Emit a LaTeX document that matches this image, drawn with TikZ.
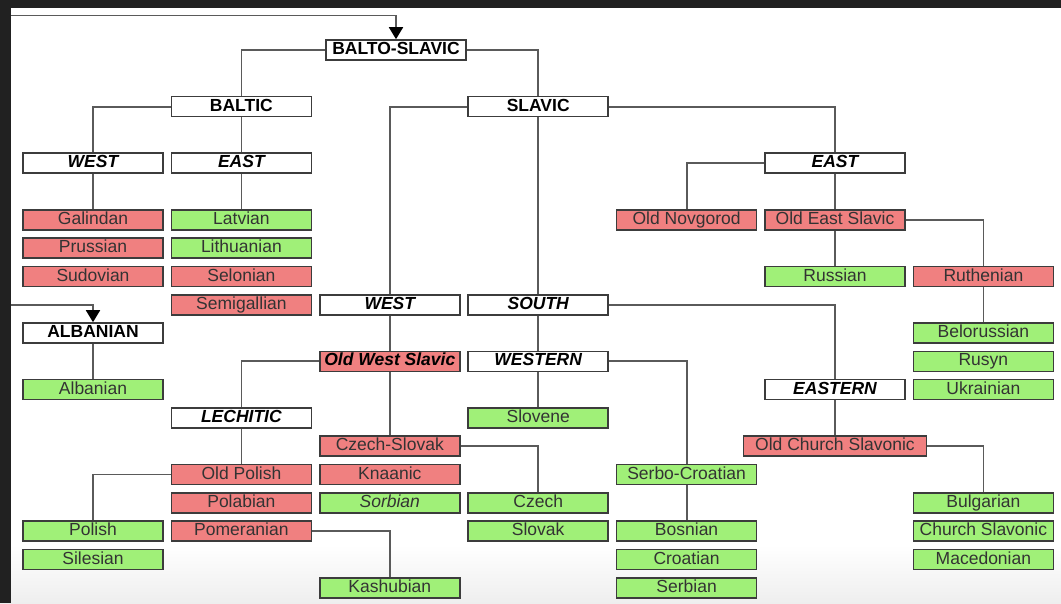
\documentclass[tikz,border=0pt]{standalone}
\usepackage{fontspec}
\setmainfont{Liberation Sans}
\usetikzlibrary{arrows.meta}
\definecolor{deadc}{RGB}{240,128,128}
\definecolor{livec}{RGB}{160,240,120}
\definecolor{bordc}{RGB}{60,60,60}
\definecolor{connc}{RGB}{90,90,90}
\definecolor{framec}{RGB}{33,33,33}
\definecolor{fadec}{RGB}{238,238,238}
\begin{document}
\begin{tikzpicture}[x=1pt,y=-1pt,
  box/.style={draw=bordc,line width=1.6pt,minimum width=140pt,minimum height=20pt,inner sep=0pt,
    font=\fontsize{17.5}{18}\selectfont,text height=12.6pt,text depth=3.4pt},
  hdr/.style={box,fill=white,text=black,font=\fontsize{17.5}{18}\selectfont\bfseries},
  hdri/.style={box,fill=white,text=black,font=\fontsize{17.5}{18}\selectfont\bfseries\itshape},
  dead/.style={box,fill=deadc,text=black!80},
  live/.style={box,fill=livec,text=black!80},
  conn/.style={draw=connc,line width=1.8pt},
  arr/.style={conn,-{Triangle[width=14pt,length=12pt,color=black]}}]
\useasboundingbox (0,0) rectangle (1061,603);
\fill[white] (0,0) rectangle (1061,603);
\shade[top color=white,bottom color=fadec] (0,545) rectangle (1061,603);
\fill[framec] (0,0) rectangle (1061,8);
\fill[framec] (0,0) rectangle (11,603);

% nodes
\node[hdr] (bs) at (396,50) {BALTO-SLAVIC};
\node[hdr] (baltic) at (241.4,106.6) {BALTIC};
\node[hdr] (slavic) at (538.2,106.6) {SLAVIC};
\node[hdri] (bwest) at (93,163.2) {WEST};
\node[hdri] (beast) at (241.4,163.2) {EAST};
\node[hdri] (seast) at (835,163.2) {EAST};
\node[dead] (galindan) at (93,219.8) {Galindan};
\node[live] (latvian) at (241.4,219.8) {Latvian};
\node[dead] (novgorod) at (686.6,219.8) {Old Novgorod};
\node[dead] (oes) at (835,219.8) {Old East Slavic};
\node[dead] (prussian) at (93,248.1) {Prussian};
\node[live] (lithuanian) at (241.4,248.1) {Lithuanian};
\node[dead] (sudovian) at (93,276.4) {Sudovian};
\node[dead] (selonian) at (241.4,276.4) {Selonian};
\node[live] (russian) at (835,276.4) {Russian};
\node[dead] (ruthenian) at (983.4,276.4) {Ruthenian};
\node[dead] (semigallian) at (241.4,304.7) {Semigallian};
\node[hdri] (swest) at (389.8,304.7) {WEST};
\node[hdri] (south) at (538.2,304.7) {SOUTH};
\node[hdr] (alb) at (93,333) {ALBANIAN};
\node[live] (belorussian) at (983.4,333) {Belorussian};
\node[dead,font=\fontsize{17.5}{18}\selectfont\bfseries\itshape,text=black] (ows) at (389.8,361.3) {Old West Slavic};
\node[hdri] (western) at (538.2,361.3) {WESTERN};
\node[live] (rusyn) at (983.4,361.3) {Rusyn};
\node[live] (albanian) at (93,389.6) {Albanian};
\node[hdri] (eastern) at (835,389.6) {EASTERN};
\node[live] (ukrainian) at (983.4,389.6) {Ukrainian};
\node[hdri] (lechitic) at (241.4,417.9) {LECHITIC};
\node[live] (slovene) at (538.2,417.9) {Slovene};
\node[dead] (czsk) at (389.8,446.2) {Czech-Slovak};
\node[dead,minimum width=183pt] (ocs) at (835,446.2) {Old Church Slavonic};
\node[dead] (oldpolish) at (241.4,474.5) {Old Polish};
\node[dead] (knaanic) at (389.8,474.5) {Knaanic};
\node[live] (serbocroatian) at (686.6,474.5) {Serbo-Croatian};
\node[dead] (polabian) at (241.4,502.8) {Polabian};
\node[live,font=\fontsize{17.5}{18}\selectfont\itshape] (sorbian) at (389.8,502.8) {Sorbian};
\node[live] (czech) at (538.2,502.8) {Czech};
\node[live] (bulgarian) at (983.4,502.8) {Bulgarian};
\node[live] (polish) at (93,531.1) {Polish};
\node[dead] (pomeranian) at (241.4,531.1) {Pomeranian};
\node[live] (slovak) at (538.2,531.1) {Slovak};
\node[live] (bosnian) at (686.6,531.1) {Bosnian};
\node[live] (chsl) at (983.4,531.1) {Church Slavonic};
\node[live] (silesian) at (93,559.4) {Silesian};
\node[live] (croatian) at (686.6,559.4) {Croatian};
\node[live] (macedonian) at (983.4,559.4) {Macedonian};
\node[live] (kashubian) at (389.8,587.7) {Kashubian};
\node[live] (serbian) at (686.6,587.7) {Serbian};

% incoming arrows
\coordinate (topin) at (11,15.5);
\coordinate (albin) at (11,305);
\draw[arr] (topin) -| (bs.north);
\draw[arr] (albin) -| (alb.north);

% connectors
\draw[conn] (bs.west) -| (baltic.north);
\draw[conn] (bs.east) -| (slavic.north);
\draw[conn] (baltic.west) -| (bwest.north);
\draw[conn] (baltic.south) -- (beast.north);
\draw[conn] (bwest.south) -- (galindan.north);
\draw[conn] (beast.south) -- (latvian.north);
\draw[conn] (slavic.west) -| (swest.north);
\draw[conn] (slavic.south) -- (south.north);
\draw[conn] (slavic.east) -| (seast.north);
\draw[conn] (seast.west) -| (novgorod.north);
\draw[conn] (seast.south) -- (oes.north);
\draw[conn] (oes.south) -- (russian.north);
\draw[conn] (oes.east) -| (ruthenian.north);
\draw[conn] (ruthenian.south) -- (belorussian.north);
\draw[conn] (alb.south) -- (albanian.north);
\draw[conn] (swest.south) -- (ows.north);
\draw[conn] (ows.west) -| (lechitic.north);
\draw[conn] (ows.south) -- (czsk.north);
\draw[conn] (lechitic.south) -- (oldpolish.north);
\draw[conn] (oldpolish.west) -| (polish.north);
\draw[conn] (pomeranian.east) -| (kashubian.north);
\draw[conn] (czsk.east) -| (czech.north);
\draw[conn] (south.south) -- (western.north);
\draw[conn] (south.east) -| (eastern.north);
\draw[conn] (western.south) -- (slovene.north);
\draw[conn] (western.east) -| (serbocroatian.north);
\draw[conn] (serbocroatian.south) -- (bosnian.north);
\draw[conn] (eastern.south) -- (ocs.north);
\draw[conn] (ocs.east) -| (bulgarian.north);
\end{tikzpicture}
\end{document}
